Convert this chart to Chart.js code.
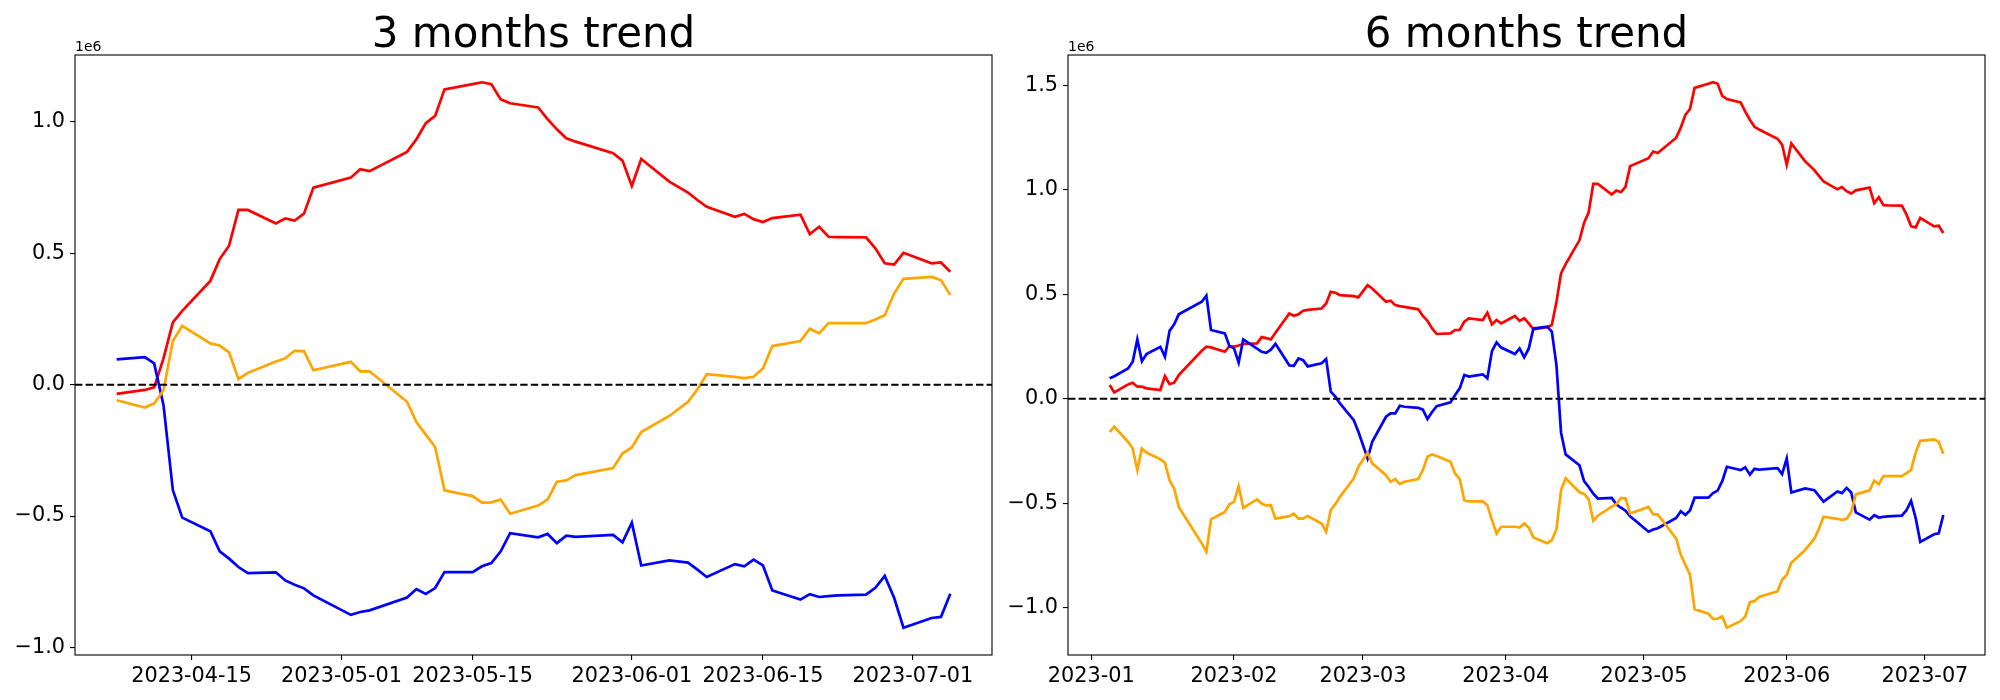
<!DOCTYPE html>
<html>
<head>
<meta charset="utf-8">
<script src="https://cdn.jsdelivr.net/npm/chart.js@4"></script>
<style>
	html, body { margin: 0; padding: 0; background: #fff; overflow: hidden; }
	.box { position: absolute; top: 0; width: 1000px; height: 700px; }
</style>
</head>
<body>
<div class="box" style="left:0px"><canvas id="chart3m"></canvas></div>
<div class="box" style="left:1000px"><canvas id="chart6m"></canvas></div>
<script>
// values in millions (axis offset text "1e6")
const dates3m = [
	'2023-04-07','2023-04-10','2023-04-11','2023-04-12','2023-04-13','2023-04-14',
	'2023-04-17','2023-04-18','2023-04-19','2023-04-20','2023-04-21',
	'2023-04-24','2023-04-25','2023-04-26','2023-04-27','2023-04-28',
	'2023-05-02','2023-05-03','2023-05-04',
	'2023-05-08','2023-05-09','2023-05-10','2023-05-11','2023-05-12',
	'2023-05-15','2023-05-16','2023-05-17','2023-05-18','2023-05-19',
	'2023-05-22','2023-05-23','2023-05-24','2023-05-25','2023-05-26',
	'2023-05-30','2023-05-31','2023-06-01','2023-06-02',
	'2023-06-05','2023-06-07','2023-06-08','2023-06-09',
	'2023-06-12','2023-06-13','2023-06-14','2023-06-15','2023-06-16',
	'2023-06-19','2023-06-20','2023-06-21','2023-06-22','2023-06-23',
	'2023-06-26','2023-06-27','2023-06-28','2023-06-29','2023-06-30',
	'2023-07-03','2023-07-04','2023-07-05'
];
const red3m = [
	-0.035, -0.02, -0.01, 0.10, 0.237, 0.281, 0.395, 0.478, 0.529, 0.665, 0.665, 0.614, 0.633, 0.625, 0.651, 0.750,
	0.788, 0.820, 0.813, 0.886, 0.934, 0.995, 1.023, 1.124, 1.144, 1.151, 1.144, 1.086, 1.071, 1.055, 1.011, 0.972, 0.938, 0.925, 0.881, 0.853,
	0.756, 0.859, 0.773, 0.731, 0.703, 0.677, 0.639, 0.650, 0.630, 0.619, 0.634, 0.647, 0.573, 0.601, 0.563, 0.562, 0.561, 0.519, 0.462, 0.457, 0.502,
	0.462, 0.465, 0.430
];
const blue3m = [
	0.096, 0.105, 0.081, -0.078, -0.402, -0.506, -0.558, -0.634, -0.662, -0.694, -0.717, -0.714, -0.745, -0.761, -0.775, -0.802,
	-0.876, -0.865, -0.859, -0.810, -0.778, -0.796, -0.774, -0.713, -0.713, -0.691, -0.679, -0.634, -0.565, -0.581, -0.568, -0.603, -0.575, -0.579, -0.572, -0.600,
	-0.525, -0.688, -0.669, -0.677, -0.704, -0.732, -0.683, -0.691, -0.666, -0.688, -0.783, -0.818, -0.797, -0.808, -0.805, -0.802, -0.799, -0.773, -0.728, -0.811, -0.925,
	-0.888, -0.884, -0.796
];
const orange3m = [
	-0.059, -0.087, -0.072, -0.021, 0.166, 0.224, 0.157, 0.149, 0.123, 0.021, 0.045, 0.088, 0.100, 0.129, 0.128, 0.055,
	0.087, 0.051, 0.051, -0.065, -0.142, -0.190, -0.237, -0.402, -0.424, -0.449, -0.448, -0.437, -0.491, -0.460, -0.437, -0.369, -0.364, -0.344, -0.317, -0.262,
	-0.239, -0.180, -0.119, -0.065, -0.018, 0.040, 0.030, 0.025, 0.030, 0.062, 0.147, 0.166, 0.213, 0.195, 0.234, 0.234, 0.234, 0.248, 0.264, 0.347, 0.403,
	0.410, 0.398, 0.341
];

const dates6m = [
	'2023-01-05','2023-01-06','2023-01-09','2023-01-10','2023-01-11','2023-01-12','2023-01-13',
	'2023-01-16','2023-01-17','2023-01-18','2023-01-19','2023-01-20',
	'2023-01-25','2023-01-26','2023-01-27','2023-01-30','2023-01-31',
	'2023-02-01','2023-02-02','2023-02-03','2023-02-06','2023-02-07','2023-02-08','2023-02-09','2023-02-10',
	'2023-02-13','2023-02-14','2023-02-15','2023-02-16','2023-02-17',
	'2023-02-20','2023-02-21','2023-02-22','2023-02-23','2023-02-24','2023-02-27','2023-02-28',
	'2023-03-02','2023-03-03','2023-03-06','2023-03-07','2023-03-08','2023-03-09','2023-03-10',
	'2023-03-13','2023-03-14','2023-03-15','2023-03-16','2023-03-17',
	'2023-03-20','2023-03-21','2023-03-22','2023-03-23','2023-03-24',
	'2023-03-27','2023-03-28','2023-03-29','2023-03-30','2023-03-31',
	'2023-04-03','2023-04-04','2023-04-05','2023-04-06',
	...dates3m
];
const red6m = [
	0.066, 0.030, 0.069, 0.077, 0.058, 0.058, 0.050, 0.042, 0.109, 0.070, 0.077, 0.113, 0.230, 0.249, 0.246, 0.225, 0.252,
	0.250, 0.255, 0.262, 0.265, 0.295, 0.290, 0.284, 0.316, 0.408, 0.397, 0.404, 0.421, 0.425, 0.432, 0.456, 0.512, 0.507, 0.496, 0.491, 0.485,
	0.544, 0.528, 0.464, 0.469, 0.448, 0.443, 0.440, 0.428, 0.396, 0.373, 0.337, 0.310, 0.313, 0.329, 0.329, 0.369, 0.385, 0.377, 0.412, 0.356, 0.377, 0.361,
	0.396, 0.373, 0.385, 0.361,
	0.332, 0.343, 0.353, 0.463, 0.600, 0.644, 0.758, 0.841, 0.892, 1.028, 1.028, 0.977, 0.996, 0.988, 1.014, 1.113,
	1.151, 1.183, 1.176, 1.249, 1.297, 1.358, 1.386, 1.487, 1.507, 1.514, 1.507, 1.449, 1.434, 1.418, 1.374, 1.335, 1.301, 1.288, 1.244, 1.216,
	1.119, 1.222, 1.136, 1.094, 1.066, 1.040, 1.002, 1.013, 0.993, 0.982, 0.997, 1.010, 0.936, 0.964, 0.926, 0.925, 0.924, 0.882, 0.825, 0.820, 0.865,
	0.825, 0.828, 0.793
];
const blue6m = [
	0.098, 0.108, 0.145, 0.177, 0.284, 0.180, 0.214, 0.249, 0.201, 0.325, 0.356, 0.404, 0.464, 0.493, 0.329, 0.313, 0.252,
	0.241, 0.173, 0.284, 0.240, 0.225, 0.220, 0.235, 0.263, 0.160, 0.158, 0.193, 0.185, 0.155, 0.170, 0.190, 0.034, 0.010, -0.022, -0.102, -0.158,
	-0.285, -0.206, -0.086, -0.070, -0.070, -0.033, -0.038, -0.043, -0.052, -0.097, -0.063, -0.035, -0.017, 0.018, 0.050, 0.114, 0.106, 0.117, 0.098, 0.228, 0.270, 0.245,
	0.214, 0.241, 0.198, 0.241,
	0.336, 0.345, 0.321, 0.162, -0.162, -0.266, -0.318, -0.394, -0.422, -0.454, -0.477, -0.474, -0.505, -0.521, -0.535, -0.562,
	-0.636, -0.625, -0.619, -0.570, -0.538, -0.556, -0.534, -0.473, -0.473, -0.451, -0.439, -0.394, -0.325, -0.341, -0.328, -0.363, -0.335, -0.339, -0.332, -0.360,
	-0.285, -0.448, -0.429, -0.437, -0.464, -0.492, -0.443, -0.451, -0.426, -0.448, -0.543, -0.578, -0.557, -0.568, -0.565, -0.562, -0.559, -0.533, -0.488, -0.571, -0.685,
	-0.648, -0.644, -0.556
];
const orange6m = [
	-0.158, -0.134, -0.206, -0.238, -0.341, -0.238, -0.258, -0.289, -0.306, -0.389, -0.429, -0.517, -0.692, -0.732, -0.577, -0.541, -0.504,
	-0.493, -0.418, -0.522, -0.481, -0.501, -0.510, -0.509, -0.573, -0.561, -0.549, -0.573, -0.573, -0.561, -0.597, -0.636, -0.532, -0.504, -0.469, -0.381, -0.325,
	-0.258, -0.309, -0.365, -0.397, -0.384, -0.408, -0.397, -0.384, -0.341, -0.277, -0.266, -0.274, -0.301, -0.357, -0.384, -0.485, -0.491, -0.491, -0.509, -0.580, -0.644, -0.612,
	-0.612, -0.616, -0.597, -0.616,
	-0.663, -0.691, -0.676, -0.625, -0.438, -0.380, -0.447, -0.455, -0.481, -0.583, -0.559, -0.516, -0.504, -0.475, -0.476, -0.549,
	-0.517, -0.553, -0.553, -0.669, -0.746, -0.794, -0.841, -1.006, -1.028, -1.053, -1.052, -1.041, -1.095, -1.064, -1.041, -0.973, -0.968, -0.948, -0.921, -0.866,
	-0.843, -0.784, -0.723, -0.669, -0.622, -0.564, -0.574, -0.579, -0.574, -0.542, -0.457, -0.438, -0.391, -0.409, -0.370, -0.370, -0.370, -0.356, -0.340, -0.257, -0.201,
	-0.194, -0.206, -0.263
];

const xTicks3m = ['2023-04-15', '2023-05-01', '2023-05-15', '2023-06-01', '2023-06-15', '2023-07-01'];
const xTicks6m = ['2023-01-01', '2023-02-01', '2023-03-01', '2023-04-01', '2023-05-01', '2023-06-01', '2023-07-01'];
const yTicks3m = [-1.0, -0.5, 0.0, 0.5, 1.0];
const yTicks6m = [-1.0, -0.5, 0.0, 0.5, 1.0, 1.5];

Chart.defaults.font.family = 'DejaVu Sans';
Chart.defaults.color = '#000';

function dayNum(s) {
	let p = s.split('-').map(Number);
	return (Date.UTC(p[0], p[1] - 1, p[2]) - Date.UTC(2023, 0, 1)) / 864e5;
}

// matplotlib style 5% margins
function padRange(vals) {
	let lo = Math.min(...vals), hi = Math.max(...vals);
	let m = (hi - lo) * 0.05;
	return [lo - m, hi + m];
}

// zero line, axes frame, title over the plot area and the "1e6" offset text
const framePlugin = {
	id: 'frame',
	afterDatasetsDraw(chart, args, opts) {
		let ctx = chart.ctx, a = chart.chartArea;
		let y0 = chart.scales.y.getPixelForValue(0);
		ctx.save();
		ctx.strokeStyle = '#000';
		ctx.lineWidth = 2;
		ctx.setLineDash([7.4, 3.2]);
		ctx.beginPath();
		ctx.moveTo(a.left, y0);
		ctx.lineTo(a.right, y0);
		ctx.stroke();
		ctx.setLineDash([]);
		ctx.lineWidth = 1.1;
		ctx.strokeRect(a.left, a.top, a.right - a.left, a.bottom - a.top);
		ctx.fillStyle = '#000';
		ctx.textBaseline = 'alphabetic';
		ctx.font = '14px DejaVu Sans';
		ctx.textAlign = 'left';
		ctx.fillText('1e6', a.left, a.top - 4);
		ctx.font = '42px DejaVu Sans';
		ctx.textAlign = 'center';
		ctx.fillText(opts.text, (a.left + a.right) / 2, a.top - 8);
		ctx.restore();
	}
};

function makeChart(id, title, dates, red, blue, orange, xTicks, xLabel, yTicks, yAxisWidth, padRight) {
	let xs = dates.map(dayNum);
	let xr = padRange(xs);
	let yr = padRange([...red, ...blue, ...orange]);
	let pts = (vals) => vals.map((v, i) => ({ x: xs[i], y: v }));
	let line = (label, vals, color, order) => ({
		label: label,
		data: pts(vals),
		borderColor: color,
		backgroundColor: color,
		borderWidth: 2.7,
		pointRadius: 0,
		tension: 0,
		order: order
	});
	return new Chart(document.getElementById(id), {
		type: 'line',
		data: {
			datasets: [
				line('red', red, '#ff0000', 3),
				line('blue', blue, '#0000ff', 2),
				line('orange', orange, '#ffa500', 1)
			]
		},
		options: {
			responsive: true,
			maintainAspectRatio: false,
			devicePixelRatio: 1,
			animation: false,
			layout: { padding: { left: 0, right: padRight, top: 55, bottom: 0 } },
			plugins: {
				legend: { display: false },
				tooltip: { enabled: false },
				title: { display: false },
				frame: { text: title }
			},
			scales: {
				x: {
					type: 'linear',
					min: xr[0],
					max: xr[1],
					afterBuildTicks: (scale) => {
						scale.ticks = xTicks.map((d) => ({ value: dayNum(d) }));
					},
					afterFit: (scale) => { scale.height = 45; },
					ticks: {
						autoSkip: false,
						maxRotation: 0,
						padding: 4,
						font: { size: 20.8 },
						callback: (value, index) => xLabel(xTicks[index])
					},
					grid: { drawOnChartArea: false, drawTicks: true, tickLength: 5, color: '#000', lineWidth: 1.1 },
					border: { display: false }
				},
				y: {
					type: 'linear',
					min: yr[0],
					max: yr[1],
					afterBuildTicks: (scale) => {
						scale.ticks = yTicks.map((v) => ({ value: v }));
					},
					afterFit: (scale) => { scale.width = yAxisWidth; },
					ticks: {
						padding: 5,
						font: { size: 20.8 },
						callback: (value) => value.toFixed(1).replace('-', '\u2212')
					},
					grid: { drawOnChartArea: false, drawTicks: true, tickLength: 5, color: '#000', lineWidth: 1.1 },
					border: { display: false }
				}
			}
		},
		plugins: [framePlugin]
	});
}

makeChart('chart3m', '3 months trend', dates3m, red3m, blue3m, orange3m,
	xTicks3m, (d) => d, yTicks3m, 75, 8);
makeChart('chart6m', '6 months trend', dates6m, red6m, blue6m, orange6m,
	xTicks6m, (d) => d.slice(0, 7), yTicks6m, 68, 15);
</script>
</body>
</html>
